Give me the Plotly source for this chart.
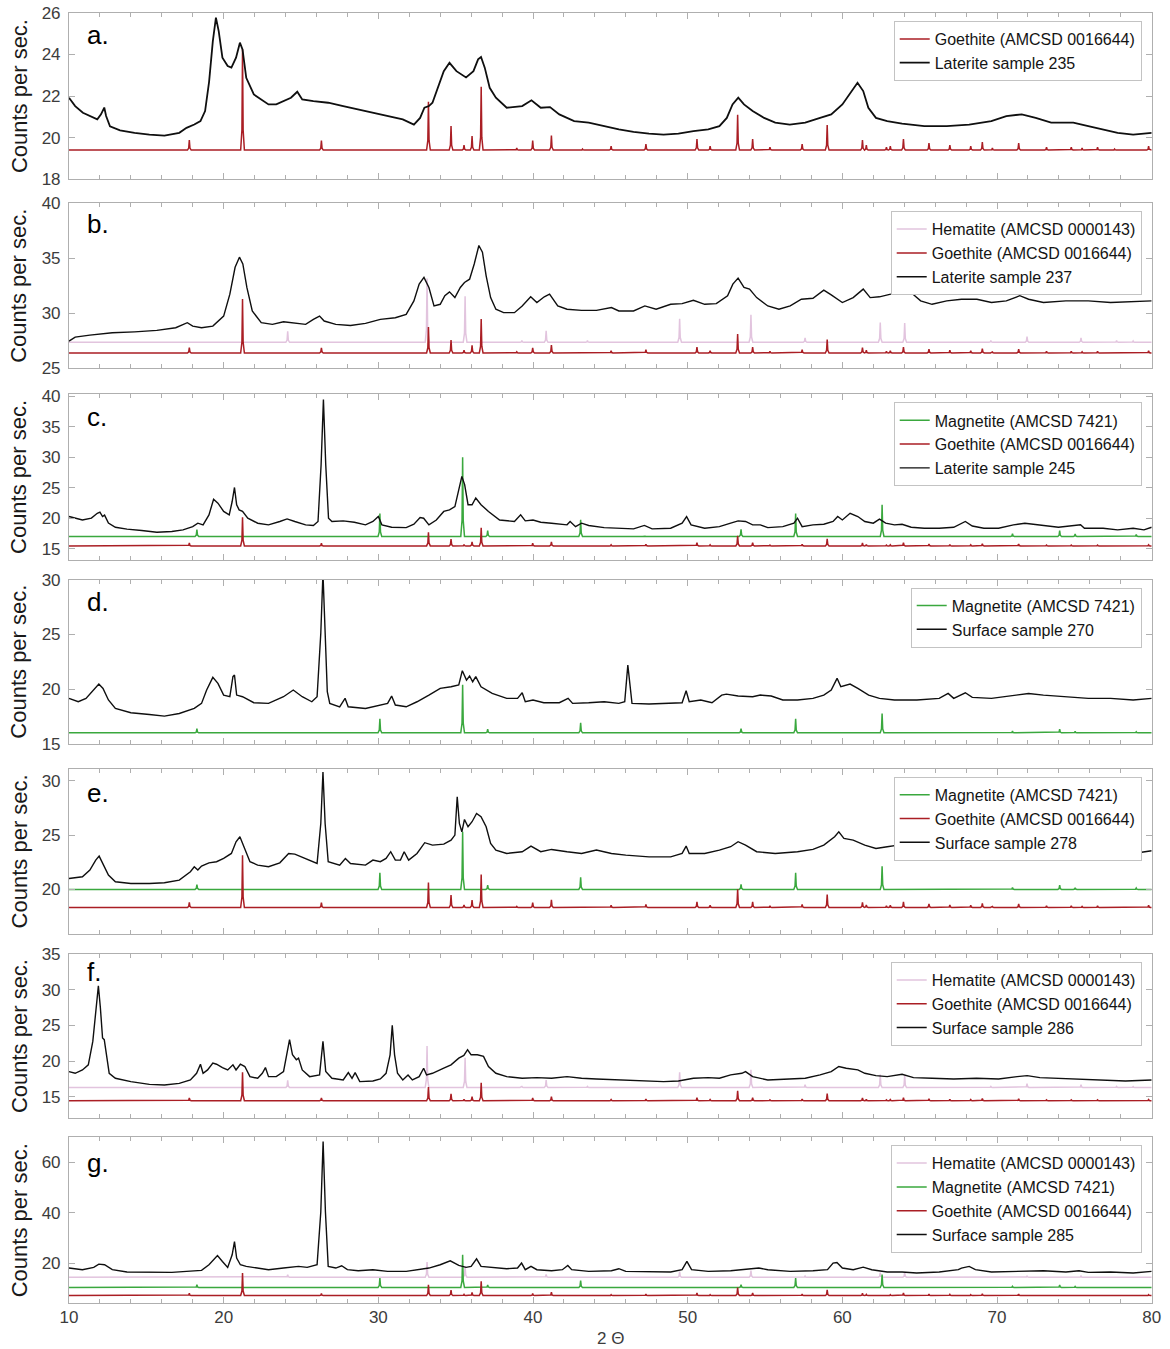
import plotly.graph_objects as go

FONT = "Liberation Sans, Arial, Helvetica, sans-serif"

# Page placement of the figure: origin offset and display scale of the page
ORIGIN = 8.0
SCALE = 0.985
FW, FH = 1180, 1362

# ---------------------------------------------------------------------------
# Reference stick patterns: (2-theta, relative intensity, strongest line = 100)
# ---------------------------------------------------------------------------
goethite_peaks = [
    (17.78, 10), (21.22, 100), (26.32, 9.5), (33.24, 48), (34.70, 24),
    (35.54, 5), (36.06, 14), (36.65, 63), (38.95, 2), (39.98, 9.5),
    (41.19, 14.5), (43.2, 1), (45.05, 4), (47.3, 6), (50.6, 11),
    (51.45, 4), (53.23, 35), (54.2, 11), (55.32, 3), (57.4, 6),
    (59.02, 25), (61.3, 10), (61.55, 5), (62.85, 3), (63.1, 4),
    (63.95, 11), (65.6, 7), (66.95, 5), (68.3, 4), (69.05, 8),
    (69.7, 2), (71.4, 7), (73.2, 3), (74.8, 3), (75.5, 2),
    (76.5, 3), (77.6, 1), (79.8, 4),
]
hematite_peaks = [
    (24.14, 17), (33.15, 100), (35.61, 72), (39.28, 2.5), (40.85, 18),
    (43.52, 2.5), (49.48, 37), (54.09, 43), (57.59, 7), (62.45, 31),
    (64.03, 30), (69.6, 2.5), (71.94, 9), (75.43, 7), (77.73, 2.5),
    (78.8, 2),
]
magnetite_peaks = [
    (18.27, 8.5), (30.1, 29), (35.45, 100), (37.07, 7.5), (43.08, 21),
    (47.2, 1), (53.45, 9), (56.98, 29), (62.57, 40), (71.0, 3.5),
    (74.05, 7.5), (75.05, 3), (79.0, 2.3),
]

# ---------------------------------------------------------------------------
# Measured patterns: (2-theta, counts per second)
# ---------------------------------------------------------------------------
laterite_235 = [
    (10.0, 21.92), (10.4, 21.52), (10.9, 21.2), (11.35, 21.04), (11.83, 20.88),
    (12.07, 21.12), (12.28, 21.45), (12.4, 21.04), (12.65, 20.55), (13.3, 20.35),
    (14.24, 20.23), (15.2, 20.15), (16.17, 20.1), (17.13, 20.23), (17.6, 20.47),
    (18.1, 20.63), (18.5, 20.8), (18.8, 21.28), (19.06, 22.7), (19.3, 24.65),
    (19.5, 25.78), (19.68, 25.13), (19.92, 23.85), (20.26, 23.45), (20.5, 23.37),
    (20.8, 23.85), (21.05, 24.57), (21.22, 24.25), (21.46, 22.88), (21.95, 22.08),
    (22.43, 21.84), (22.9, 21.6), (23.4, 21.6), (23.87, 21.76), (24.35, 21.92),
    (24.76, 22.21), (25.08, 21.84), (25.8, 21.76), (26.76, 21.68), (27.73, 21.52),
    (28.7, 21.36), (29.65, 21.2), (30.6, 21.04), (31.58, 20.88), (32.3, 20.63),
    (32.7, 20.95), (32.98, 21.44), (33.27, 21.52), (33.5, 21.68), (33.9, 22.56),
    (34.23, 23.2), (34.6, 23.6), (35.05, 23.2), (35.67, 22.9), (36.15, 23.2),
    (36.45, 23.77), (36.64, 23.88), (36.88, 23.37), (37.2, 22.4), (37.6, 21.92),
    (38.3, 21.44), (39.3, 21.52), (39.9, 21.8), (40.5, 21.44), (41.1, 21.47),
    (41.7, 21.12), (42.66, 20.8), (43.6, 20.72), (44.6, 20.55), (45.55, 20.4),
    (46.5, 20.28), (47.5, 20.19), (48.44, 20.15), (49.4, 20.19), (50.37, 20.31),
    (51.33, 20.4), (52.05, 20.55), (52.53, 20.95), (52.9, 21.6), (53.27, 21.92),
    (53.64, 21.6), (54.2, 21.28), (54.94, 20.95), (55.66, 20.72), (56.6, 20.63),
    (57.6, 20.72), (58.56, 20.95), (59.28, 21.12), (60.0, 21.6), (60.58, 22.24),
    (60.98, 22.64), (61.35, 22.24), (61.68, 21.44), (62.17, 20.95), (62.9, 20.8),
    (63.86, 20.67), (65.3, 20.55), (66.75, 20.55), (68.2, 20.63), (69.63, 20.8),
    (70.6, 21.04), (71.6, 21.12), (72.5, 20.95), (73.5, 20.72), (74.93, 20.72),
    (75.9, 20.55), (76.86, 20.4), (77.8, 20.23), (78.8, 20.15), (80.0, 20.23),
]
laterite_237 = [
    (10.0, 27.47), (10.4, 27.84), (11.35, 28.02), (12.8, 28.23), (14.24, 28.32),
    (15.68, 28.45), (16.9, 28.69), (17.37, 29.0), (17.65, 29.15), (18.0, 28.84),
    (18.57, 28.69), (19.3, 28.84), (20.0, 29.75), (20.4, 31.74), (20.74, 34.18),
    (21.02, 35.1), (21.24, 34.48), (21.5, 32.35), (21.85, 30.21), (22.43, 29.15),
    (23.15, 29.0), (23.87, 29.24), (24.6, 29.15), (25.3, 29.0), (25.8, 29.45),
    (26.2, 29.75), (26.5, 29.3), (27.25, 29.0), (28.2, 28.9), (29.17, 29.09),
    (30.13, 29.45), (31.1, 29.6), (31.8, 29.9), (32.3, 31.13), (32.64, 32.65),
    (32.95, 33.26), (33.27, 32.35), (33.6, 30.67), (34.0, 30.82), (34.3, 31.6),
    (34.6, 31.95), (34.95, 31.43), (35.3, 32.35), (35.57, 32.8), (35.9, 33.1),
    (36.2, 34.48), (36.5, 36.16), (36.73, 35.55), (36.97, 33.41), (37.26, 31.43),
    (37.6, 30.37), (38.1, 30.06), (38.8, 30.06), (39.3, 30.67), (39.85, 31.5),
    (40.25, 30.98), (40.73, 31.5), (41.07, 31.74), (41.6, 30.67), (42.2, 30.37),
    (43.14, 30.27), (44.1, 30.27), (45.07, 30.52), (45.55, 30.21), (46.5, 30.21),
    (47.23, 30.67), (47.96, 30.37), (48.9, 30.82), (49.64, 30.88), (50.37, 31.19),
    (51.1, 30.82), (51.85, 30.88), (52.58, 31.6), (52.92, 32.65), (53.26, 33.2),
    (53.64, 32.35), (54.0, 32.2), (54.46, 31.43), (55.18, 30.67), (55.9, 30.37),
    (56.63, 30.67), (57.35, 31.28), (58.1, 31.37), (58.8, 32.1), (59.28, 31.67),
    (60.0, 30.98), (60.7, 31.43), (61.35, 32.2), (61.8, 31.43), (62.4, 31.5),
    (63.13, 31.74), (63.6, 31.95), (63.95, 32.35), (64.44, 31.89), (65.06, 31.13),
    (65.8, 30.82), (66.75, 31.13), (67.7, 31.28), (68.7, 31.28), (69.64, 30.98),
    (70.6, 31.13), (71.47, 31.6), (72.04, 31.28), (73.0, 30.98), (74.45, 31.13),
    (75.9, 31.13), (77.34, 30.98), (78.79, 31.07), (80.0, 31.13),
]
laterite_245 = [
    (10.0, 20.26), (10.87, 19.7), (11.45, 20.0), (11.83, 20.8), (12.0, 20.98),
    (12.17, 20.26), (12.3, 20.5), (12.55, 19.2), (13.0, 18.5), (13.75, 18.2),
    (14.7, 17.96), (15.68, 17.69), (16.65, 17.8), (17.37, 18.07), (18.0, 18.6),
    (18.33, 19.17), (18.67, 18.9), (19.05, 20.54), (19.35, 23.1), (19.63, 22.46),
    (20.0, 21.1), (20.36, 20.54), (20.55, 22.73), (20.7, 25.03), (20.84, 22.18),
    (21.0, 21.36), (21.22, 21.1), (21.56, 19.99), (22.2, 19.17), (22.9, 18.9),
    (23.63, 19.45), (24.1, 19.88), (24.6, 19.45), (25.3, 18.9), (25.8, 18.8),
    (26.1, 19.45), (26.3, 28.76), (26.45, 39.45), (26.6, 28.76), (26.78, 19.99),
    (27.0, 19.45), (27.73, 19.55), (28.45, 19.33), (29.17, 18.9), (29.65, 19.45),
    (30.0, 20.26), (30.23, 18.9), (30.86, 18.5), (31.8, 18.45), (32.3, 19.0),
    (32.7, 20.1), (32.93, 19.99), (33.27, 18.9), (33.75, 19.7), (34.23, 21.1),
    (34.6, 21.36), (34.95, 21.9), (35.2, 24.9), (35.4, 26.84), (35.58, 25.5),
    (35.8, 22.2), (36.06, 22.2), (36.3, 23.3), (36.64, 22.2), (37.12, 21.1),
    (37.84, 19.7), (38.8, 19.45), (39.2, 20.54), (39.5, 19.55), (40.0, 19.7),
    (40.5, 19.33), (41.2, 19.17), (42.2, 18.9), (42.4, 19.45), (42.75, 18.6),
    (43.14, 19.17), (43.6, 18.8), (44.6, 18.45), (45.55, 18.35), (46.5, 18.24),
    (47.2, 18.8), (47.7, 18.24), (48.9, 18.35), (49.64, 19.17), (49.93, 20.26),
    (50.22, 18.9), (51.1, 18.35), (52.05, 18.6), (52.78, 19.17), (53.26, 19.55),
    (53.74, 19.45), (54.2, 18.9), (54.7, 18.9), (55.18, 18.45), (56.15, 18.6),
    (56.87, 19.17), (57.1, 19.99), (57.4, 18.6), (58.1, 18.9), (58.8, 19.0),
    (59.4, 19.45), (59.7, 20.26), (60.0, 19.7), (60.5, 20.8), (61.0, 20.26),
    (61.45, 19.45), (62.0, 19.17), (62.4, 19.83), (62.8, 19.17), (63.37, 18.9),
    (63.86, 19.0), (64.45, 18.5), (65.3, 18.35), (66.26, 18.35), (67.2, 18.5),
    (67.95, 19.45), (68.4, 18.7), (69.15, 18.35), (70.1, 18.35), (71.06, 18.9),
    (71.8, 19.17), (72.77, 18.9), (73.97, 18.5), (75.4, 18.9), (75.65, 18.35),
    (76.86, 18.35), (77.8, 18.07), (78.8, 18.35), (79.5, 18.07), (80.0, 18.5),
]
surface_270 = [
    (10.0, 19.15), (10.6, 18.84), (11.1, 19.15), (11.6, 19.91), (11.93, 20.46),
    (12.2, 20.06), (12.55, 19.0), (13.0, 18.23), (14.0, 17.84), (15.2, 17.68),
    (16.17, 17.53), (17.13, 17.77), (18.1, 18.23), (18.57, 18.69), (18.9, 19.91),
    (19.3, 21.07), (19.63, 20.52), (20.0, 19.45), (20.4, 19.3), (20.6, 21.13),
    (20.7, 21.28), (20.84, 19.45), (21.22, 19.3), (21.95, 18.75), (22.9, 18.69),
    (23.87, 19.3), (24.5, 19.91), (25.08, 19.3), (25.7, 18.84), (26.04, 19.3),
    (26.28, 25.1), (26.42, 30.6), (26.56, 25.1), (26.7, 19.76), (26.86, 18.69),
    (27.5, 18.38), (27.85, 19.15), (28.05, 18.38), (29.17, 18.23), (30.13, 18.54),
    (30.6, 18.69), (30.86, 19.36), (31.1, 18.54), (31.8, 18.38), (32.5, 18.84),
    (33.27, 19.45), (34.0, 20.06), (34.7, 20.21), (35.2, 20.37), (35.43, 21.68),
    (35.7, 20.82), (35.9, 21.19), (36.1, 20.67), (36.3, 21.13), (36.64, 20.21),
    (37.36, 19.6), (38.3, 19.15), (39.0, 19.15), (39.3, 19.66), (39.5, 18.84),
    (40.0, 19.0), (40.7, 18.75), (41.7, 18.75), (42.27, 19.15), (42.56, 18.69),
    (43.6, 18.75), (44.6, 18.84), (45.55, 18.69), (45.93, 18.84), (46.13, 22.2),
    (46.27, 20.52), (46.4, 18.69), (47.5, 18.63), (48.9, 18.69), (49.64, 18.75),
    (49.9, 19.85), (50.1, 18.84), (50.85, 19.0), (51.57, 18.75), (52.2, 19.45),
    (52.5, 19.54), (53.26, 19.36), (54.2, 19.3), (54.7, 19.45), (55.4, 19.36),
    (56.15, 19.0), (57.1, 19.0), (58.1, 19.15), (58.8, 19.45), (59.28, 19.91),
    (59.66, 20.98), (59.9, 20.21), (60.5, 20.46), (61.0, 20.06), (61.7, 19.45),
    (62.4, 19.15), (63.37, 19.0), (64.82, 19.0), (66.26, 19.15), (66.84, 19.6),
    (67.2, 19.15), (67.95, 19.66), (68.4, 19.24), (69.64, 19.15), (71.06, 19.45),
    (72.04, 19.6), (73.0, 19.45), (74.45, 19.3), (75.9, 19.15), (77.34, 19.15),
    (78.8, 19.0), (80.0, 19.15),
]
surface_278 = [
    (10.0, 21.01), (10.87, 21.17), (11.35, 21.78), (11.73, 22.7), (11.95, 23.07),
    (12.2, 22.4), (12.55, 21.32), (13.0, 20.71), (14.0, 20.55), (15.2, 20.55),
    (16.17, 20.61), (17.13, 20.86), (17.85, 21.63), (18.1, 22.09), (18.33, 21.78),
    (18.57, 22.15), (19.05, 22.45), (19.54, 22.55), (20.0, 22.85), (20.5, 23.31),
    (20.8, 24.39), (21.05, 24.85), (21.3, 23.93), (21.7, 22.55), (22.2, 22.24),
    (22.9, 22.09), (23.63, 22.45), (24.2, 23.31), (24.6, 23.25), (25.3, 22.85),
    (26.04, 22.39), (26.28, 26.07), (26.42, 30.8), (26.56, 26.07), (26.76, 22.55),
    (27.5, 22.24), (27.87, 22.85), (28.2, 22.39), (29.17, 22.24), (29.65, 22.7),
    (30.13, 22.55), (30.5, 22.85), (30.8, 23.47), (31.1, 22.7), (31.43, 22.7),
    (31.67, 23.47), (31.96, 22.7), (32.5, 23.31), (33.0, 24.3), (33.5, 24.08),
    (34.23, 24.17), (34.7, 24.54), (34.95, 25.0), (35.1, 28.53), (35.24, 26.07),
    (35.4, 25.3), (35.57, 26.44), (35.8, 25.77), (36.06, 26.23), (36.35, 26.99),
    (36.64, 26.69), (36.97, 25.77), (37.26, 24.23), (37.6, 23.62), (38.3, 23.31),
    (39.3, 23.47), (39.87, 23.99), (40.5, 23.47), (41.2, 23.68), (42.2, 23.47),
    (43.14, 23.31), (44.1, 23.62), (45.07, 23.31), (46.0, 23.16), (47.5, 23.0),
    (48.9, 23.0), (49.64, 23.31), (49.9, 23.99), (50.1, 23.31), (51.1, 23.31),
    (52.05, 23.62), (52.78, 23.93), (53.26, 24.39), (53.74, 24.08), (54.46, 23.47),
    (55.66, 23.31), (57.1, 23.47), (58.1, 23.68), (58.8, 24.08), (59.5, 24.85),
    (59.77, 25.3), (60.1, 24.69), (60.7, 24.54), (61.45, 24.08), (62.17, 23.77),
    (62.9, 23.93), (63.6, 24.08), (64.3, 23.62), (65.3, 23.47), (66.75, 23.47),
    (68.2, 23.62), (69.64, 23.47), (71.06, 23.77), (71.8, 23.99), (72.77, 23.62),
    (73.97, 23.47), (74.7, 23.86), (75.2, 23.47), (76.4, 23.47), (77.8, 23.37),
    (78.8, 23.31), (80.0, 23.56),
]
surface_286 = [
    (10.0, 18.53), (10.4, 18.29), (10.87, 18.76), (11.25, 19.47), (11.54, 22.76),
    (11.73, 27.47), (11.9, 30.53), (12.03, 27.47), (12.17, 23.24), (12.28, 23.0),
    (12.4, 21.35), (12.6, 18.29), (13.0, 17.59), (14.0, 17.12), (15.2, 16.74),
    (16.17, 16.65), (17.13, 16.88), (17.85, 17.35), (18.25, 18.29), (18.5, 19.56),
    (18.67, 18.29), (18.96, 18.76), (19.3, 19.71), (19.54, 19.56), (19.92, 19.09),
    (20.26, 18.76), (20.6, 19.47), (20.8, 18.76), (21.08, 19.56), (21.37, 19.24),
    (21.7, 17.82), (22.2, 17.59), (22.5, 18.29), (22.7, 19.09), (22.9, 17.82),
    (23.4, 17.82), (23.87, 18.53), (24.1, 20.88), (24.26, 23.0), (24.45, 20.88),
    (24.7, 20.18), (24.84, 20.41), (25.08, 18.76), (25.56, 17.82), (26.2, 18.06),
    (26.42, 22.76), (26.6, 18.53), (27.0, 17.59), (27.73, 17.35), (28.06, 18.39),
    (28.3, 17.59), (28.5, 18.39), (28.8, 17.12), (29.65, 17.21), (30.13, 17.5),
    (30.5, 18.29), (30.76, 20.88), (30.9, 25.0), (31.05, 20.88), (31.24, 18.29),
    (31.58, 17.35), (31.92, 18.06), (32.2, 17.35), (32.64, 17.82), (32.93, 19.0),
    (33.12, 18.06), (33.5, 18.29), (34.23, 19.0), (34.7, 19.47), (35.2, 20.41),
    (35.53, 20.79), (35.77, 21.59), (36.0, 20.88), (36.4, 20.88), (36.8, 20.65),
    (37.12, 19.24), (37.6, 18.29), (38.3, 17.82), (39.3, 17.59), (40.25, 17.68),
    (41.2, 17.59), (42.2, 17.82), (43.14, 17.59), (44.1, 17.5), (45.55, 17.35),
    (47.0, 17.21), (48.44, 17.12), (49.4, 17.21), (50.37, 17.59), (51.33, 17.68),
    (52.05, 17.59), (52.78, 18.06), (53.5, 18.29), (53.74, 18.53), (54.2, 17.82),
    (55.18, 17.35), (56.63, 17.5), (57.6, 17.59), (58.56, 18.06), (59.28, 18.53),
    (59.77, 19.24), (60.25, 19.0), (61.0, 18.76), (61.45, 18.29), (62.17, 17.96),
    (62.9, 17.82), (63.86, 18.15), (64.6, 17.68), (65.8, 17.59), (67.2, 17.5),
    (68.67, 17.59), (70.1, 17.5), (71.3, 17.82), (71.95, 17.96), (72.77, 17.68),
    (73.97, 17.59), (75.4, 17.5), (76.86, 17.35), (78.3, 17.21), (80.0, 17.35),
]
surface_285 = [
    (10.0, 18.03), (10.87, 17.38), (11.6, 18.3), (11.93, 19.6), (12.3, 19.34),
    (12.8, 17.38), (13.75, 16.46), (15.2, 16.33), (16.65, 16.33), (17.6, 16.72),
    (18.57, 17.11), (19.05, 19.34), (19.6, 23.0), (19.92, 20.66), (20.26, 18.3),
    (20.55, 23.28), (20.7, 28.5), (20.84, 21.97), (21.08, 19.34), (21.46, 18.69),
    (22.2, 18.03), (22.9, 17.38), (23.87, 18.03), (24.84, 18.69), (25.4, 18.3),
    (26.04, 19.34), (26.28, 40.3), (26.43, 68.3), (26.58, 40.3), (26.76, 18.69),
    (27.25, 18.03), (27.63, 18.95), (28.0, 17.38), (28.7, 16.98), (29.65, 17.38),
    (30.6, 16.72), (31.8, 16.72), (32.5, 17.38), (33.27, 18.03), (34.0, 19.34),
    (34.65, 20.92), (35.2, 19.08), (35.67, 18.3), (36.0, 18.69), (36.35, 21.7),
    (36.64, 18.69), (37.36, 18.3), (38.3, 17.77), (39.0, 18.03), (39.26, 20.0),
    (39.5, 17.38), (39.87, 18.69), (40.25, 17.38), (41.2, 16.98), (41.9, 17.38),
    (42.25, 19.08), (42.5, 17.38), (43.6, 16.72), (45.07, 16.98), (45.55, 17.77),
    (46.0, 16.72), (47.5, 16.46), (48.9, 16.46), (49.64, 17.38), (49.95, 20.66),
    (50.25, 17.38), (51.33, 16.72), (52.78, 16.98), (53.74, 17.38), (54.6, 18.03),
    (55.18, 17.38), (56.63, 16.72), (58.1, 16.98), (59.04, 17.38), (59.4, 20.0),
    (59.65, 20.26), (60.0, 18.03), (60.7, 17.38), (61.35, 18.4), (61.9, 17.38),
    (62.9, 16.46), (63.86, 16.46), (64.8, 16.07), (66.26, 16.46), (67.5, 17.38),
    (67.7, 18.03), (68.2, 18.69), (68.6, 17.38), (69.64, 16.46), (71.06, 16.72),
    (73.0, 16.98), (74.45, 16.46), (75.3, 16.98), (75.9, 16.33), (77.34, 16.46),
    (78.8, 16.07), (80.0, 16.72),
]

GOETHITE = ("Goethite (AMCSD 0016644)", goethite_peaks, "rgb(170,30,36)")
HEMATITE = ("Hematite (AMCSD 0000143)", hematite_peaks, "rgb(226,196,222)")
MAGNETITE = ("Magnetite (AMCSD 7421)", magnetite_peaks, "rgb(58,168,62)")

# Panel definitions: letter, sample label, sample data,
# reference phases as (phase, baseline, height of the 100 % line),
# y range, y tick step, page-pixel top / bottom of the plotting box, letter y
panels = [
    ("a.", "Laterite sample 235", laterite_235, [(GOETHITE, 19.4, 4.85)],
     (18, 26), 2, 12, 178, 34),
    ("b.", "Laterite sample 237", laterite_237,
     [(HEMATITE, 27.37, 5.8), (GOETHITE, 26.4, 4.9)],
     (25, 40), 5, 202, 367, 223),
    ("c.", "Laterite sample 245", laterite_245,
     [(MAGNETITE, 17.0, 13.0), (GOETHITE, 15.44, 4.7)],
     (13.2, 40.3), 5, 393, 558, 416),
    ("d.", "Surface sample 270", surface_270, [(MAGNETITE, 16.0, 4.4)],
     (15, 30), 5, 578, 742, 600),
    ("e.", "Surface sample 278", surface_278,
     [(MAGNETITE, 20.0, 5.3), (GOETHITE, 18.34, 4.8)],
     (15.9, 31.1), 5, 767, 932, 791),
    ("f.", "Surface sample 286", surface_286,
     [(HEMATITE, 16.3, 5.8), (GOETHITE, 14.44, 4.0)],
     (12, 35), 5, 952, 1116, 970),
    ("g.", "Surface sample 285", surface_285,
     [(HEMATITE, 14.4, 6.0), (MAGNETITE, 10.3, 13.0), (GOETHITE, 7.1, 9.0)],
     (4, 70), 20, 1135, 1301, 1161),
]

X_LEFT, X_RIGHT = 68, 1151
BOX = "rgb(175,175,175)"
TICKFONT = dict(family=FONT, size=17, color="rgb(60,60,60)")


def px(x):
    """Page x pixel -> paper fraction of the figure."""
    return (x - ORIGIN) / SCALE / FW


def py(y):
    """Page y pixel -> paper fraction of the figure."""
    return 1 - (y - ORIGIN) / SCALE / FH


def stick_pattern(peaks, base, scale):
    """Thin peak profile on a flat baseline for a list of (2θ, I) lines."""
    xs, ys = [10.0], [base]
    for pos, rel in peaks:
        h = scale * rel / 100.0
        xs += [pos - 0.12, pos - 0.04, pos, pos + 0.04, pos + 0.12]
        ys += [base, base + 0.2 * h, base + h, base + 0.2 * h, base]
    xs.append(80.0)
    ys.append(base)
    return xs, ys


fig = go.Figure()
layout = dict(
    width=FW, height=FH,
    margin=dict(l=0, r=0, t=0, b=0),
    paper_bgcolor="white", plot_bgcolor="white",
    font=dict(family=FONT, color="rgb(30,30,30)"),
    annotations=[],
)

for i, (letter, label, data, refs, yrng, ydt, top, bot, ly) in enumerate(panels, start=1):
    sfx = "" if i == 1 else str(i)
    leg = "legend" + sfx
    xa, ya = "x" + sfx, "y" + sfx

    for (name, peaks, color), base, scale in refs:
        xs, ys = stick_pattern(peaks, base, scale)
        fig.add_trace(go.Scatter(
            x=xs, y=ys, mode="lines", name=name, legend=leg,
            line=dict(color=color, width=1.5), xaxis=xa, yaxis=ya,
        ))

    fig.add_trace(go.Scatter(
        x=[p[0] for p in data], y=[p[1] for p in data], mode="lines",
        name=label, legend=leg,
        line=dict(color="rgb(15,15,15)", width=1.8 if i == 1 else 1.4),
        xaxis=xa, yaxis=ya,
    ))

    layout["xaxis" + sfx] = dict(
        domain=[px(X_LEFT), px(X_RIGHT)], anchor=ya, range=[10, 80],
        showline=True, linecolor=BOX, linewidth=1, mirror="ticks",
        ticks="inside", ticklen=6, tickcolor=BOX, tick0=10, dtick=10,
        minor=dict(dtick=2, ticks="inside", ticklen=4, tickcolor=BOX),
        showgrid=False, zeroline=False, showticklabels=(i == 7),
        tickfont=TICKFONT, ticklabelstandoff=-2,
    )
    layout["yaxis" + sfx] = dict(
        domain=[py(bot), py(top)], anchor=xa, range=list(yrng),
        showline=True, linecolor=BOX, linewidth=1, mirror="ticks",
        ticks="inside", ticklen=6, tickcolor=BOX, tick0=0, dtick=ydt,
        showgrid=False, zeroline=False, tickfont=TICKFONT,
        ticklabelstandoff=4,
    )
    layout[leg] = dict(
        x=px(1141), xanchor="right", y=py(top + 8), yanchor="top",
        xref="paper", yref="paper",
        bgcolor="white", bordercolor="rgb(195,195,195)", borderwidth=1,
        font=dict(family=FONT, size=16, color="rgb(20,20,20)"),
        itemwidth=30, tracegroupgap=0,
    )
    layout["annotations"].append(dict(
        text=letter, x=px(84), y=py(ly), xref="paper", yref="paper",
        xanchor="left", yanchor="middle", showarrow=False,
        font=dict(family=FONT, size=26, color="black"),
    ))
    layout["annotations"].append(dict(
        text="Counts per sec.", x=px(18), y=py((top + bot) / 2),
        xref="paper", yref="paper", xanchor="center", yanchor="middle",
        textangle=-90, showarrow=False,
        font=dict(family=FONT, size=22, color="rgb(25,25,25)"),
    ))

layout["annotations"].append(dict(
    text="2 Θ", x=px((X_LEFT + X_RIGHT) / 2), y=py(1336),
    xref="paper", yref="paper", xanchor="center", yanchor="middle",
    showarrow=False, font=dict(family=FONT, size=17, color="rgb(60,60,60)"),
))

fig.update_layout(**layout)
fig.write_html("out.html")
